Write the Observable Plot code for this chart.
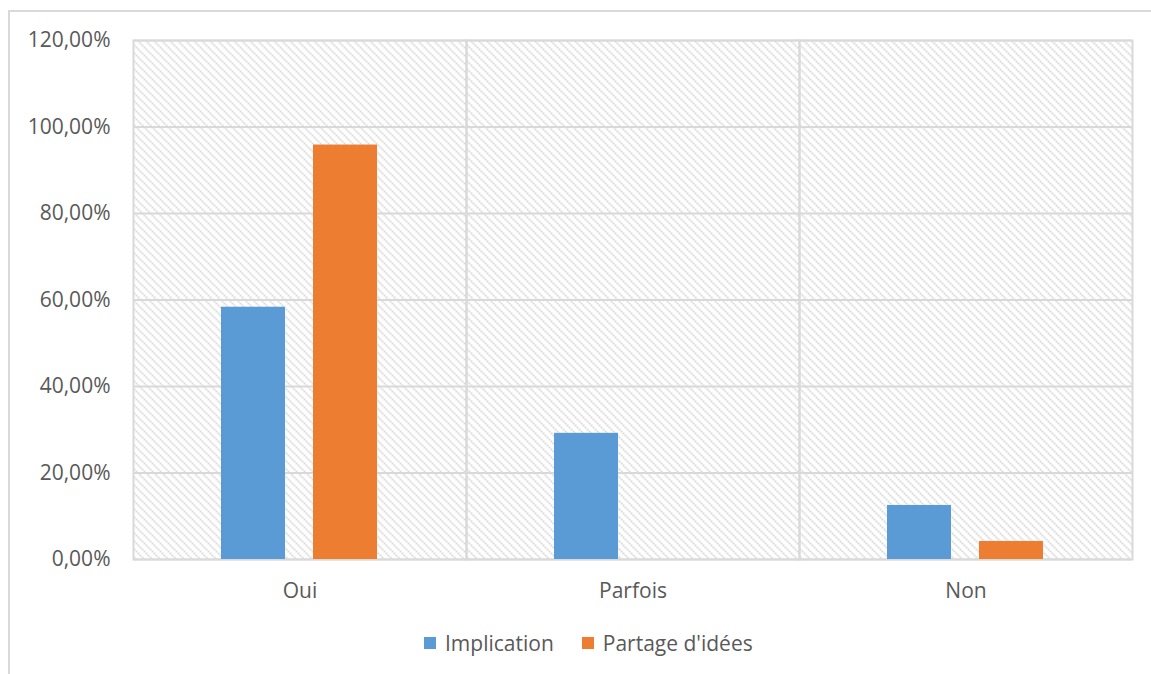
<!DOCTYPE html>
<html>
<head>
<meta charset="utf-8">
<script src="https://cdn.jsdelivr.net/npm/d3@7"></script>
<script src="https://cdn.jsdelivr.net/npm/@observablehq/plot@0.6"></script>
<style>
  html, body { margin: 0; padding: 0; background: #fff; overflow: hidden; }
  #frame { position: absolute; left: 8px; top: 10px; width: 1170px; height: 700px; border: 2px solid #d9d9d9; box-sizing: border-box; }
  #chart { position: absolute; left: 0; top: 0; }
  #legend { position: absolute; left: 424px; top: 629px; font-family: "Open Sans", sans-serif; font-size: 21px; color: #595959; display: flex; align-items: center; white-space: nowrap; }
  #legend .sw { display: inline-block; width: 12px; height: 12px; margin-right: 9px; }
  #legend .item { display: flex; align-items: center; margin-right: 28px; }
</style>
</head>
<body>
<div id="frame"></div>
<div id="chart"></div>
<div id="legend"></div>
<script>
const categories = ["Oui", "Parfois", "Non"];
const seriesNames = ["Implication", "Partage d'idées"];
const implication = [0.5833, 0.2917, 0.125];
const partage = [0.9583, 0, 0.0417];
const colors = ["#5B9BD5", "#ED7D31"];
const yTicks = [0, 0.2, 0.4, 0.6, 0.8, 1.0, 1.2];

const data = [];
categories.forEach((c, i) => {
  data.push({category: c, series: seriesNames[0], value: implication[i]});
  data.push({category: c, series: seriesNames[1], value: partage[i]});
});

const fmt = d => (d * 100).toFixed(2).replace(".", ",") + "%";

const plot = Plot.plot({
  width: 1151,
  height: 610,
  marginLeft: 132,
  marginRight: 18,
  marginTop: 40,
  marginBottom: 51,
  style: {fontFamily: "'Open Sans', sans-serif", fontSize: "21px", color: "#595959", background: "transparent"},
  fx: {domain: categories, padding: 0, label: null, axis: null},
  x: {domain: seriesNames, paddingInner: 0.301, paddingOuter: 0.944, axis: null},
  y: {domain: [0, 1.2], ticks: yTicks, tickFormat: fmt, label: null, axis: null},
  color: {domain: seriesNames, range: colors},
  marks: [
    Plot.frame({fill: "url(#hatch)", stroke: null}),
    Plot.ruleY(yTicks, {stroke: "#d9d9d9", strokeWidth: 2}),
    Plot.frame({stroke: "#d9d9d9", strokeWidth: 2}),
    Plot.barY(data, {fx: "category", x: "series", y: "value", fill: "series"}),
    Plot.axisY({ticks: yTicks, tickFormat: fmt, tickSize: 0, tickPadding: 23, fill: "#595959", label: null}),
    Plot.axisFx({anchor: "bottom", tickSize: 0, tickPadding: 24, label: null, fill: "#595959"})
  ]
});

// hatch pattern definition
const svg = d3.select(plot);
const defs = svg.insert("defs", ":first-child");
const pat = defs.append("pattern")
  .attr("id", "hatch")
  .attr("patternUnits", "userSpaceOnUse")
  .attr("width", 8).attr("height", 8);
pat.append("rect").attr("width", 8).attr("height", 8).attr("fill", "#ffffff");
[[0,0],[2,2],[4,4],[6,6]].forEach(([x, y]) => {
  pat.append("rect").attr("x", x).attr("y", y).attr("width", 2).attr("height", 2).attr("fill", "#dcdcdc");
});
document.getElementById("chart").appendChild(plot);

// legend
const legend = document.getElementById("legend");
seriesNames.forEach((s, i) => {
  const item = document.createElement("span");
  item.className = "item";
  const sw = document.createElement("span");
  sw.className = "sw";
  sw.style.background = colors[i];
  item.appendChild(sw);
  item.appendChild(document.createTextNode(s));
  legend.appendChild(item);
});
</script>
</body>
</html>
